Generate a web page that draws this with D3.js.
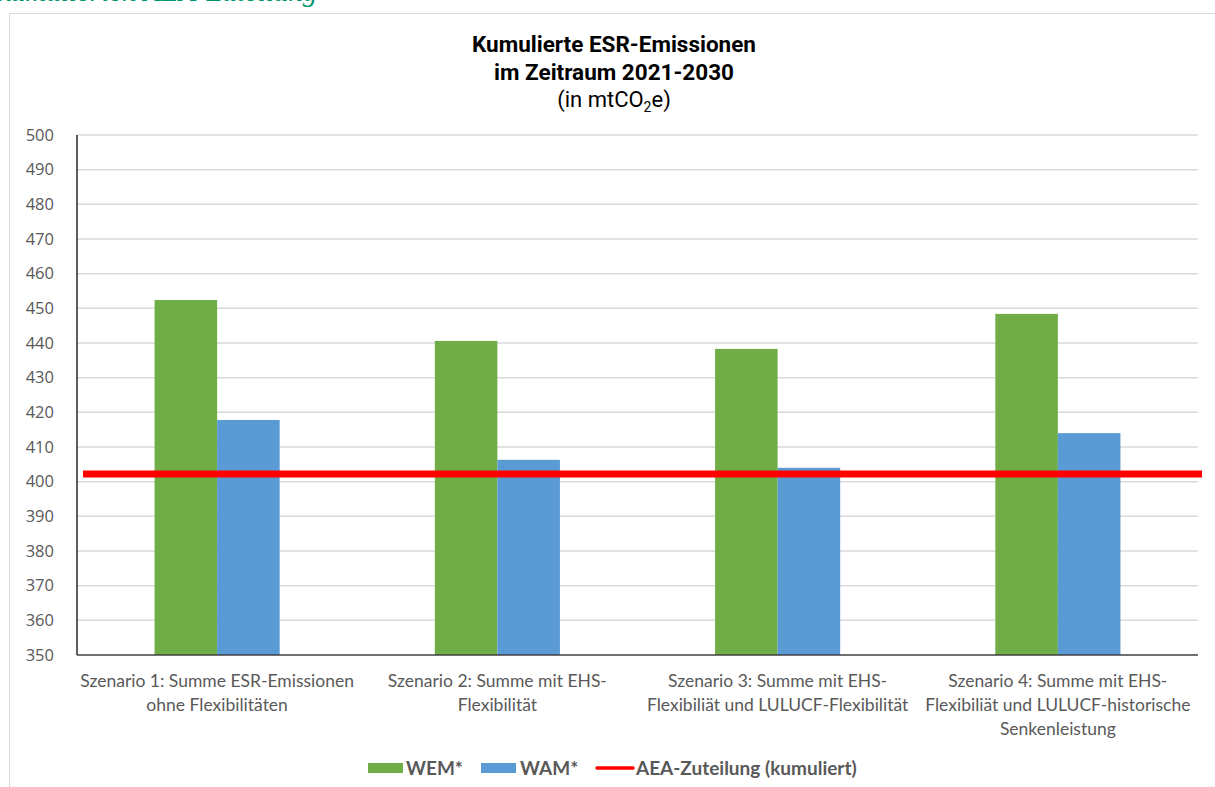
<!DOCTYPE html>
<html>
<head>
<meta charset="utf-8">
<script src="https://cdn.jsdelivr.net/npm/d3@7"></script>
<style>
  html, body { margin: 0; padding: 0; background: #fff; }
  svg { display: block; }
</style>
</head>
<body>
<svg id="chart" width="1215" height="787"></svg>
<script>
// Scenario categories (each label split into lines)
const categories = [
  ["Szenario 1: Summe ESR-Emissionen", "ohne Flexibilitäten"],
  ["Szenario 2: Summe mit EHS-", "Flexibilität"],
  ["Szenario 3: Summe mit EHS-", "Flexibiliät und LULUCF-Flexibilität"],
  ["Szenario 4: Summe mit EHS-", "Flexibiliät und LULUCF-historische", "Senkenleistung"]
];
const seriesNames = ["WEM*", "WAM*"];
const wemValues = [452.4, 440.6, 438.3, 448.4];
const wamValues = [417.8, 406.3, 404.0, 414.0];
const aeaAllocation = 402.2;
const yTicks = [350, 360, 370, 380, 390, 400, 410, 420, 430, 440, 450, 460, 470, 480, 490, 500];
const lineName = "AEA-Zuteilung (kumuliert)";

const colors = { "WEM*": "#70AD47", "WAM*": "#5B9BD5", line: "#FF0000" };

const svg = d3.select("#chart");

// heading text above the frame, running off the top of the page
svg.append("text")
  .attr("x", -2).attr("y", 1)
  .attr("font-family", "Liberation Serif, serif")
  .attr("font-style", "italic")
  .attr("font-size", 29)
  .attr("fill", "#00956F")
  .text("kumulierten AEA-Zuteilung");

// chart frame
svg.append("rect")
  .attr("x", 9.5).attr("y", 13.5)
  .attr("width", 1215).attr("height", 800)
  .attr("fill", "#fff")
  .attr("stroke", "#d9d9d9").attr("stroke-width", 1);

// title
const title = svg.append("text")
  .attr("text-anchor", "middle")
  .attr("font-family", "Roboto, sans-serif")
  .attr("fill", "#000");
title.append("tspan").attr("x", 614).attr("y", 52)
  .attr("font-weight", "bold").attr("font-size", 22.5)
  .text("Kumulierte ESR-Emissionen");
title.append("tspan").attr("x", 614).attr("y", 80)
  .attr("font-weight", "bold").attr("font-size", 22.5)
  .text("im Zeitraum 2021-2030");
const sub = svg.append("text")
  .attr("x", 614).attr("y", 107)
  .attr("text-anchor", "middle")
  .attr("font-family", "Roboto, sans-serif")
  .attr("font-size", 22)
  .attr("fill", "#000");
sub.append("tspan").text("(in mtCO");
sub.append("tspan").attr("font-size", 14).attr("dy", 5).text("2");
sub.append("tspan").attr("dy", -5).text("e)");

// plot area
const plotLeft = 77, plotRight = 1198, plotTop = 135, plotBottom = 655;

const x0 = d3.scaleBand()
  .domain(d3.range(categories.length))
  .range([plotLeft, plotRight])
  .paddingInner(0)
  .paddingOuter(0);

const x1 = d3.scaleBand()
  .domain(seriesNames)
  .range([0, x0.bandwidth()])
  .paddingInner(0)
  .paddingOuter(1.24);

const y = d3.scaleLinear()
  .domain([350, 500])
  .range([plotBottom, plotTop]);

// gridlines
svg.append("g")
  .selectAll("line")
  .data(yTicks.filter(t => t > 350))
  .join("line")
  .attr("x1", plotLeft).attr("x2", plotRight)
  .attr("y1", d => y(d)).attr("y2", d => y(d))
  .attr("stroke", "#d9d9d9").attr("stroke-width", 1.5);

// y axis labels
const yAxis = d3.axisLeft(y).tickValues(yTicks).tickSize(0).tickPadding(23);
const yg = svg.append("g").attr("transform", `translate(${plotLeft},0)`).call(yAxis);
yg.select(".domain").remove();
yg.selectAll("text")
  .attr("font-family", "Open Sans, sans-serif")
  .attr("font-size", 16.5)
  .attr("fill", "#595959");

// bars
const rows = categories.map((c, i) => ({ i, values: [wemValues[i], wamValues[i]] }));
const groups = svg.append("g")
  .selectAll("g")
  .data(rows)
  .join("g")
  .attr("transform", d => `translate(${x0(d.i)},0)`);
groups.selectAll("rect")
  .data(d => seriesNames.map((s, k) => ({ s, v: d.values[k] })))
  .join("rect")
  .attr("x", d => x1(d.s))
  .attr("width", x1.bandwidth())
  .attr("y", d => y(d.v))
  .attr("height", d => y(350) - y(d.v))
  .attr("fill", d => colors[d.s]);

// axis lines
svg.append("line")
  .attr("x1", plotLeft).attr("x2", plotLeft)
  .attr("y1", plotTop).attr("y2", plotBottom)
  .attr("stroke", "#262626").attr("stroke-width", 1.5);
svg.append("line")
  .attr("x1", plotLeft).attr("x2", plotRight)
  .attr("y1", plotBottom).attr("y2", plotBottom)
  .attr("stroke", "#404040").attr("stroke-width", 1.5);

// allocation line
svg.append("line")
  .attr("x1", 83).attr("x2", 1202)
  .attr("y1", y(aeaAllocation)).attr("y2", y(aeaAllocation))
  .attr("stroke", colors.line).attr("stroke-width", 7);

// category labels
const catG = svg.append("g")
  .selectAll("text")
  .data(categories)
  .join("text")
  .attr("text-anchor", "middle")
  .attr("font-family", "Lato, sans-serif")
  .attr("font-size", 17.5)
  .attr("fill", "#595959");
catG.each(function(lines, i) {
  const t = d3.select(this);
  lines.forEach((ln, j) => {
    t.append("tspan")
      .attr("x", x0(i) + x0.bandwidth() / 2)
      .attr("y", 687 + j * 24)
      .text(ln);
  });
});

// legend
const legend = svg.append("g")
  .attr("font-family", "Lato, sans-serif")
  .attr("font-size", 19)
  .attr("font-weight", "bold")
  .attr("fill", "#595959");
const legendItems = [
  { name: seriesNames[0], type: "rect", x: 368, tx: 406 },
  { name: seriesNames[1], type: "rect", x: 481, tx: 520 },
  { name: lineName, type: "line", x: 597, tx: 636 }
];
const ly = 768;
legendItems.forEach(it => {
  if (it.type === "rect") {
    legend.append("rect")
      .attr("x", it.x).attr("y", ly - 5)
      .attr("width", 35).attr("height", 10)
      .attr("fill", colors[it.name]);
  } else {
    legend.append("line")
      .attr("x1", it.x).attr("x2", it.x + 36)
      .attr("y1", ly).attr("y2", ly)
      .attr("stroke", colors.line).attr("stroke-width", 3.5)
      .attr("stroke-linecap", "round");
  }
  legend.append("text")
    .attr("x", it.tx).attr("y", ly + 6.5)
    .text(it.name);
});
</script>
</body>
</html>
